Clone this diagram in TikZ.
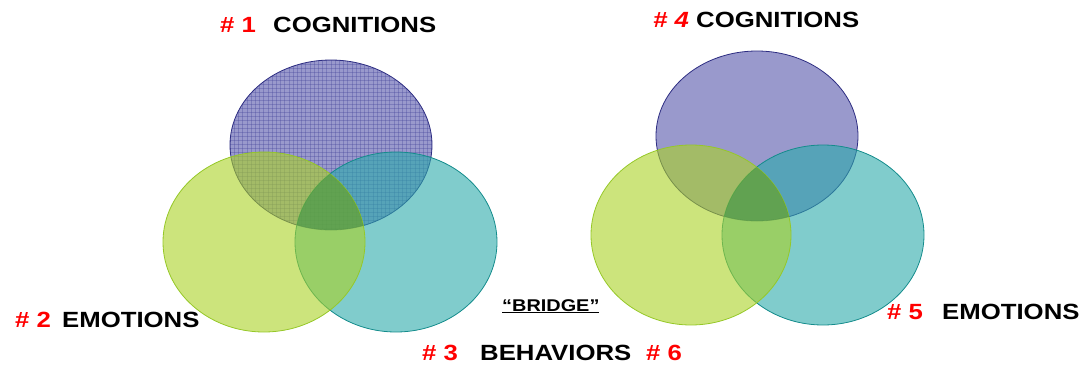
\documentclass[tikz,border=0pt]{standalone}
\usepackage{fontspec}
\setmainfont{Liberation Sans}
\usepackage{graphicx}
\definecolor{purfill}{RGB}{85,85,170}
\definecolor{grnfill}{RGB}{170,210,37}
\definecolor{tealfill}{RGB}{43,170,170}
\definecolor{purline}{RGB}{45,45,130}
\definecolor{grnline}{RGB}{150,200,40}
\definecolor{tealline}{RGB}{20,140,140}
\definecolor{gridline}{RGB}{60,60,150}
\definecolor{tripledark}{RGB}{40,120,60}
\definecolor{lred}{RGB}{255,0,0}
\newcommand{\wide}[1]{\scalebox{1.17}[1]{#1}}
\begin{document}
\begin{tikzpicture}[x=1pt,y=-1pt,
  lab/.style={inner sep=0pt, anchor=base west, font=\fontsize{22}{26}\selectfont\bfseries},
  smalllab/.style={inner sep=0pt, anchor=base west, font=\fontsize{17}{20}\selectfont\bfseries},
  purple set/.style={fill=purfill, fill opacity=0.6, draw=purline, line width=0.8pt},
  green set/.style={fill=grnfill, fill opacity=0.6, draw=grnline, line width=0.8pt},
  teal set/.style={fill=tealfill, fill opacity=0.6, draw=tealline, line width=0.8pt},
  gridstyle/.style={draw=gridline, line width=0.5pt, opacity=0.3}]
\useasboundingbox (0,0) rectangle (1084,367);
% left diagram
\fill[purfill, fill opacity=0.6] (331,145) ellipse [x radius=101pt, y radius=85pt];
\begin{scope}
\clip (331,145) ellipse [x radius=101pt, y radius=85pt];
\foreach \i in {0,...,50} {\draw[gridstyle] (230+\i*4.2,55) -- (230+\i*4.2,235);}
\foreach \j in {0,...,45} {\draw[gridstyle] (225,60+\j*4.0) -- (440,60+\j*4.0);}
\end{scope}
\draw[purline, line width=0.8pt] (331,145) ellipse [x radius=101pt, y radius=85pt];
\draw[teal set] (396,242) ellipse [x radius=101pt, y radius=90pt];
\draw[green set] (264,242) ellipse [x radius=101pt, y radius=90pt];
\begin{scope}
\clip (331,145) ellipse [x radius=101pt, y radius=85pt];
\clip (396,242) ellipse [x radius=101pt, y radius=90pt];
\fill[tripledark, fill opacity=0.4] (264,242) ellipse [x radius=101pt, y radius=90pt];
\end{scope}
% right diagram
\draw[purple set] (757,136) ellipse [x radius=101pt, y radius=85pt];
\draw[teal set] (823,235) ellipse [x radius=101pt, y radius=90pt];
\draw[green set] (691,235) ellipse [x radius=100pt, y radius=90pt];
\begin{scope}
\clip (757,136) ellipse [x radius=101pt, y radius=85pt];
\clip (823,235) ellipse [x radius=101pt, y radius=90pt];
\fill[tripledark, fill opacity=0.4] (691,235) ellipse [x radius=100pt, y radius=90pt];
\end{scope}
% labels
\node[lab, text=lred] (n1) at (220,32) {\wide{\# 1}};
\node[lab] (cog1) at (273,32) {\wide{COGNITIONS}};
\node[lab, text=lred] (n4) at (653,27) {\wide{\itshape\# 4}};
\node[lab] (cog4) at (696,27) {\wide{COGNITIONS}};
\node[lab, text=lred] (n2) at (15,327) {\wide{\# 2}};
\node[lab] (emo2) at (62,327) {\wide{EMOTIONS}};
\node[lab, text=lred] (n5) at (887,319) {\wide{\# 5}};
\node[lab] (emo5) at (942,319) {\wide{EMOTIONS}};
\node[lab, text=lred] (n3) at (422,360) {\wide{\# 3}};
\node[lab] (beh) at (480,360) {\wide{BEHAVIORS}};
\node[lab, text=lred] (n6) at (646,360) {\wide{\# 6}};
\node[smalllab] (bridge) at (502,311) {\wide{\underline{“BRIDGE”}}};
\end{tikzpicture}
\end{document}
